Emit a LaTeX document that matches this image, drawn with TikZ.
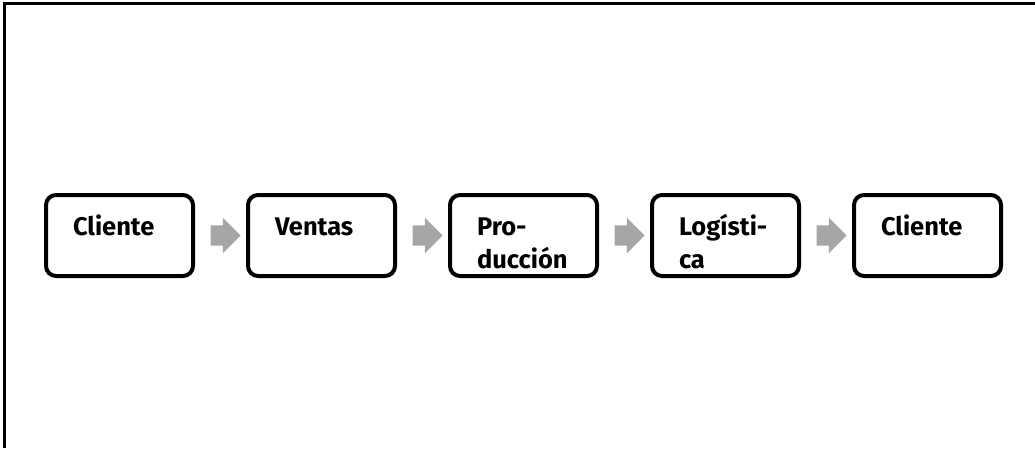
\documentclass[tikz,border=0pt]{standalone}
\usepackage{fontspec}
\setmainfont{Fira Sans}
\usetikzlibrary{positioning,shapes.arrows}

\definecolor{arrowgray}{HTML}{A6A6A6}

\begin{document}
\begin{tikzpicture}[
		x=1pt,
		y=1pt,
		node distance=51pt,
		stage/.style={
			shape=rectangle,
			draw,
			line width=4pt,
			rounded corners=10pt,
			text width=93pt,
			align=left,
			inner xsep=27pt,
			inner ysep=5pt,
			text height=35pt,
			text depth=36pt,
			minimum height=81pt,
			font=\bfseries\fontsize{25.5}{33}\selectfont,
		},
		flow/.style={
			single arrow,
			fill=arrowgray,
			inner xsep=0pt,
			inner ysep=10pt,
			single arrow head extend=7.5pt,
			minimum height=30pt,
		},
	]
		\useasboundingbox (0,0) rectangle (1035,448);
		\draw[line width=3pt] (4,0) -- (4,444) -- (1035,444);

		\node[stage] (clientIn) at (119.5,212.5) {Cliente};
		\node[stage, right=of clientIn] (sales) {Ventas};
		\node[stage, right=of sales] (production) {Pro-\\ducción};
		\node[stage, right=of production] (logistics) {Logísti-\\ca};
		\node[stage, right=of logistics] (clientOut) {Cliente};

		\path (clientIn) -- node[flow] {} (sales);
		\path (sales) -- node[flow] {} (production);
		\path (production) -- node[flow] {} (logistics);
		\path (logistics) -- node[flow] {} (clientOut);
	\end{tikzpicture}
\end{document}
